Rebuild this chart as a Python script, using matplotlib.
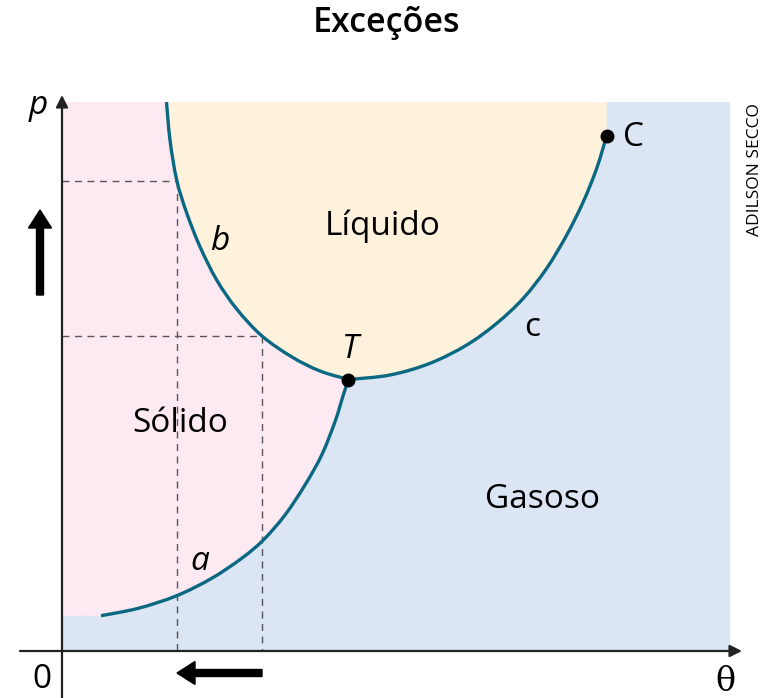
import matplotlib
matplotlib.use("Agg")
import matplotlib.pyplot as plt
from matplotlib.path import Path
from matplotlib.patches import PathPatch, FancyArrow, Rectangle

# ---- data (θ, p) (arbitrary units) ----
curve_a_theta = [39, 76.3, 114.7, 149.7, 179.7, 201.3, 223, 243, 259.7, 273, 281.3, 286.5]
curve_a_p     = [35.3, 42.7, 55.3, 72.7, 92.7, 111, 136, 166, 196, 229.3, 256, 271.5]

curve_b_theta = [104.5, 108, 114.7, 124.7, 138, 154.7, 174.7, 200, 230, 258, 286.5]
curve_b_p     = [549, 511, 471, 438, 404.3, 371, 342, 315, 294, 280, 271.5]

curve_c_theta = [286.5, 328, 368, 404.7, 434.7, 461.3, 484.7, 504.7, 521.3, 534.7, 544.7]
curve_c_p     = [271.5, 276, 287.7, 306, 327.7, 352.7, 382.7, 416, 449.3, 482.7, 515.3]

triple_point = (286.5, 271.5)
critical_point = (544.7, 515.3)
dash_theta = [115, 200]
dash_p = [470, 315]
theta_max = 668
p_max = 549
solid_floor_p = 35

region_labels = ["Líquido", "Sólido", "Gasoso"]
curve_labels = ["a", "b", "c"]

# ---- colours ----
PINK = "#fde9f2"
CREAM = "#fef2dc"
BLUE = "#dce5f4"
TEAL = "#0a6882"
FONT = "Open Sans"

fig = plt.figure(figsize=(7.65, 6.98), dpi=100)
ax = fig.add_axes([0, 0, 1, 1])
ax.set_xlim(-62, 703)
ax.set_ylim(-47, 651)
ax.axis("off")


def smooth(xs, ys):
    """Catmull-Rom cubic bezier segments through the points (without MOVETO)"""
    pts = list(zip(xs, ys))
    n = len(pts)
    verts, codes = [], []
    for i in range(n - 1):
        p0 = pts[i - 1] if i > 0 else pts[i]
        p1 = pts[i]
        p2 = pts[i + 1]
        p3 = pts[i + 2] if i + 2 < n else pts[i + 1]
        c1 = (p1[0] + (p2[0] - p0[0]) / 6, p1[1] + (p2[1] - p0[1]) / 6)
        c2 = (p2[0] - (p3[0] - p1[0]) / 6, p2[1] - (p3[1] - p1[1]) / 6)
        verts += [c1, c2, p2]
        codes += [Path.CURVE4] * 3
    return verts, codes


def open_path(xs, ys):
    v, c = smooth(xs, ys)
    return Path([(xs[0], ys[0])] + v, [Path.MOVETO] + c)


# background (gas)
ax.add_patch(Rectangle((0, 0), theta_max, p_max, facecolor=BLUE, edgecolor="none", zorder=0))

# solid region
verts = [(0, p_max), (curve_b_theta[0], curve_b_p[0])]
codes = [Path.MOVETO, Path.LINETO]
v, c = smooth(curve_b_theta, curve_b_p); verts += v; codes += c
v, c = smooth(curve_a_theta[::-1], curve_a_p[::-1]); verts += v; codes += c
verts += [(0, solid_floor_p), (0, p_max)]
codes += [Path.LINETO, Path.CLOSEPOLY]
ax.add_patch(PathPatch(Path(verts, codes), facecolor=PINK, edgecolor="none", zorder=1))

# liquid region
verts = [(curve_b_theta[0], curve_b_p[0])]
codes = [Path.MOVETO]
v, c = smooth(curve_b_theta, curve_b_p); verts += v; codes += c
v, c = smooth(curve_c_theta, curve_c_p); verts += v; codes += c
verts += [(critical_point[0], p_max), (curve_b_theta[0], p_max)]
codes += [Path.LINETO, Path.CLOSEPOLY]
ax.add_patch(PathPatch(Path(verts, codes), facecolor=CREAM, edgecolor="none", zorder=1))

# dashed guide lines
for th, pp in zip(dash_theta, dash_p):
    ax.plot([0, th], [pp, pp], color="#555555", lw=1.0, dashes=(5, 4), zorder=2)
    ax.plot([th, th], [pp, 0], color="#555555", lw=1.0, dashes=(5, 4), zorder=2)

# phase boundary curves
for xs, ys in [(curve_a_theta, curve_a_p), (curve_b_theta, curve_b_p), (curve_c_theta, curve_c_p)]:
    ax.add_patch(PathPatch(open_path(xs, ys), facecolor="none", edgecolor=TEAL,
                           lw=2.4, capstyle="butt", zorder=3))

# points
ax.plot(*triple_point, "o", color="black", ms=9, zorder=4)
ax.plot(*critical_point, "o", color="black", ms=9, zorder=4)

# axes with arrows
ax.annotate("", xy=(680, 0), xytext=(-42, 0),
            arrowprops=dict(arrowstyle="-|>", color="#222222", lw=1.6, mutation_scale=18,
                            shrinkA=0, shrinkB=0), zorder=5)
ax.annotate("", xy=(0, 556), xytext=(0, -47),
            arrowprops=dict(arrowstyle="-|>", color="#222222", lw=1.6, mutation_scale=18,
                            shrinkA=0, shrinkB=0), zorder=5)

# thick black arrows
ax.add_patch(FancyArrow(-22, 356, 0, 85, width=7, head_width=23, head_length=18,
                        length_includes_head=True, color="black", zorder=5))
ax.add_patch(FancyArrow(200, -22, -85, 0, width=7, head_width=23, head_length=18,
                        length_includes_head=True, color="black", zorder=5))

# texts
fs = 24
ax.text(325, 628, "Exceções", ha="center", va="center", fontsize=24.5, family=FONT, weight="semibold")
ax.text(321, 425, region_labels[0], ha="center", va="center", fontsize=fs, family=FONT)
ax.text(118, 228, region_labels[1], ha="center", va="center", fontsize=fs, family=FONT)
ax.text(481, 151, region_labels[2], ha="center", va="center", fontsize=fs, family=FONT)
ax.text(288, 301, "T", ha="center", va="center", fontsize=fs, family=FONT, style="italic")
ax.text(572, 513, "C", ha="center", va="center", fontsize=fs, family=FONT)
ax.text(158, 409, curve_labels[1], ha="center", va="center", fontsize=fs, family=FONT, style="italic")
ax.text(470, 324, curve_labels[2], ha="center", va="center", fontsize=fs, family=FONT)
ax.text(138, 90, curve_labels[0], ha="center", va="center", fontsize=fs, family=FONT, style="italic")
ax.text(-24, 545, "p", ha="center", va="center", fontsize=fs, family=FONT, style="italic")
ax.text(-20, -29, "0", ha="center", va="center", fontsize=fs, family=FONT)
ax.text(663, -31, "θ", ha="center", va="center", fontsize=24, family="DejaVu Serif")
ax.text(693, 481, "ADILSON SECCO", ha="center", va="center", fontsize=12.5, family=FONT,
        rotation=90)

fig.savefig("out.png", dpi=100)
